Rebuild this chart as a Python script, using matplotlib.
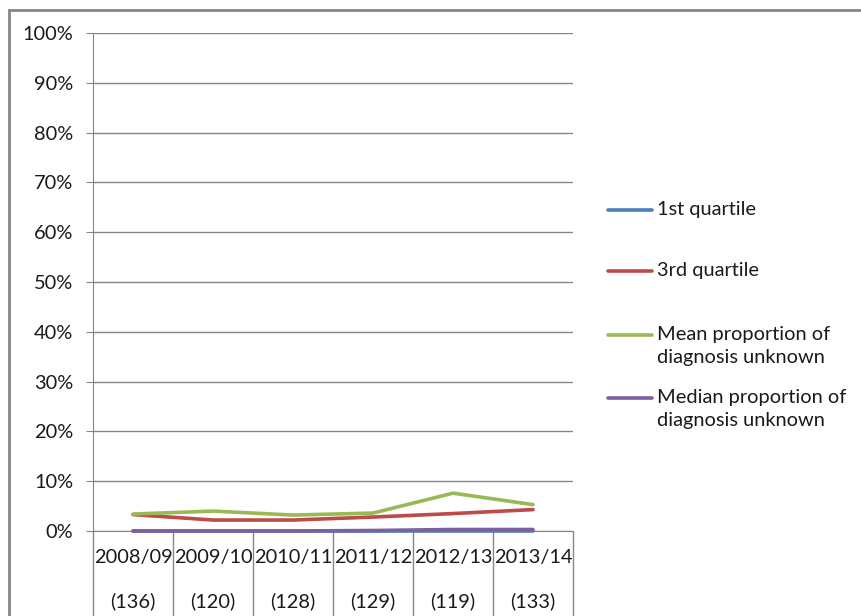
import matplotlib.pyplot as plt
from matplotlib.lines import Line2D
from matplotlib.patches import Rectangle
from matplotlib.ticker import PercentFormatter

plt.rcParams['font.family'] = ['Lato', 'DejaVu Sans']

years = ['2008/09', '2009/10', '2010/11', '2011/12', '2012/13', '2013/14']
counts = ['(136)', '(120)', '(128)', '(129)', '(119)', '(133)']

# proportion of diagnosis unknown, percent
q1 = [0.0, 0.0, 0.0, 0.0, 0.0, 0.0]
q3 = [3.3, 2.2, 2.2, 2.8, 3.5, 4.3]
mean = [3.4, 4.0, 3.2, 3.6, 7.6, 5.3]
median = [0.0, 0.0, 0.0, 0.1, 0.3, 0.3]

names = ['1st quartile', '3rd quartile',
         'Mean proportion of\ndiagnosis unknown',
         'Median proportion of\ndiagnosis unknown']
colors = ['#4A7EBB', '#BE4B48', '#98B954', '#7D60A0']

W, H = 861, 616
fig = plt.figure(figsize=(W / 100, H / 100), dpi=100)
ax = fig.add_axes([93 / W, 1 - 531 / H, 480 / W, 498 / H])

gray = '#868686'
txt = '#1a1a1a'
fs = 14.4
x = range(len(years))
for ys, c in zip([q1, q3, mean, median], colors):
    ax.plot(x, ys, color=c, lw=2.6, solid_capstyle='round', clip_on=False, zorder=3)

ax.set_xlim(-0.5, len(years) - 0.5)
ax.set_ylim(0, 100)
ax.set_yticks(range(0, 101, 10))
ax.yaxis.set_major_formatter(PercentFormatter(decimals=0))
ax.grid(axis='y', color=gray, lw=1)
ax.tick_params(axis='y', length=5, color=gray, pad=9.4, labelsize=fs, labelcolor=txt)

# category separators hang below the axis
ax.set_xticks([i - 0.5 for i in range(len(years) + 1)], minor=True)
ax.set_xticks(list(x))
ax.set_xticklabels([])
ax.tick_params(axis='x', which='major', length=0)
ax.tick_params(axis='x', which='minor', length=62, width=1, color=gray)

for i, (yr, n) in enumerate(zip(years, counts)):
    ax.annotate(yr, xy=(i, 0), xycoords=('data', 'axes fraction'),
                xytext=(0, -26 * 0.72), textcoords='offset points',
                ha='center', va='center', fontsize=fs, color=txt)
    ax.annotate(n, xy=(i, 0), xycoords=('data', 'axes fraction'),
                xytext=(0, -70 * 0.72), textcoords='offset points',
                ha='center', va='center', fontsize=fs, color=txt)

for s in ['top', 'right']:
    ax.spines[s].set_visible(False)
ax.spines['left'].set_color(gray)
ax.spines['bottom'].set_color(gray)

# legend drawn by hand so the key sits on the first text line
leg_y = [210, 271, 335, 398]
for name, c, yy in zip(names, colors, leg_y):
    fy = 1 - yy / H
    fig.add_artist(Line2D([608 / W, 652 / W], [fy, fy], color=c, lw=2.6,
                          solid_capstyle='round'))
    fig.text(657 / W, fy + 9 / H, name, ha='left', va='top', fontsize=fs,
             color=txt, linespacing=1.45)

# chart frame
fig.add_artist(Rectangle((9 / W, -0.1), 1.2, 1.1 - 10 / H, transform=fig.transFigure,
                         fill=False, edgecolor=gray, lw=2))

fig.savefig('out.png', dpi=100)
